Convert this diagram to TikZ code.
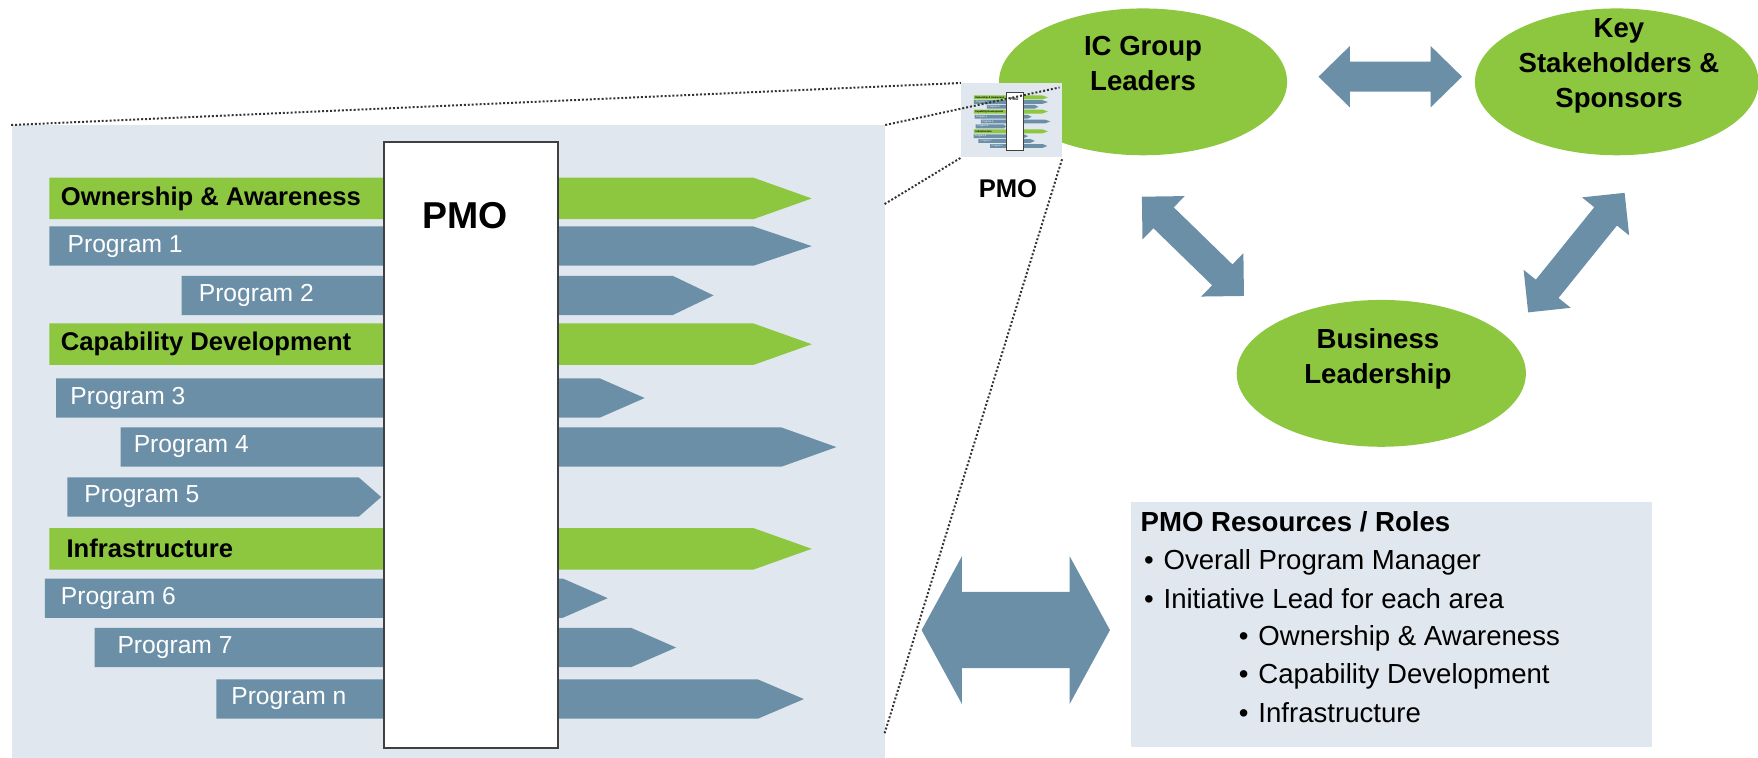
\documentclass[tikz,border=0pt]{standalone}
\usepackage{fontspec}
\setmainfont{Liberation Sans}
\usetikzlibrary{calc,shapes.geometric}
\definecolor{pmogreen} {RGB}{141,198,63}
\definecolor{pmoblue}  {RGB}{108,143,168}
\definecolor{panelgray}{RGB}{224,231,238}
\definecolor{boxgray}  {RGB}{64,64,64}
\tikzset{
  panelbox/.style={fill=panelgray, inner sep=0pt, anchor=north west},
  pmobox/.style  ={draw=boxgray, fill=white, inner sep=0pt, anchor=north west,
                   minimum width=3.1cm, minimum height=10.81cm},
  pmotxt/.style  ={inner sep=0pt, font=\fontsize{19}{22}\selectfont\bfseries},
  greenlbl/.style={anchor=west, inner sep=0pt, text=black,
                   font=\fontsize{13}{15}\selectfont\bfseries},
  bluelbl/.style ={anchor=west, inner sep=0pt, text=white,
                   font=\fontsize{12.5}{15}\selectfont},
  group/.style   ={ellipse, fill=pmogreen, inner sep=0pt, minimum height=2.62cm},
  grouptxt/.style={align=center, inner sep=0pt,
                   font=\fontsize{14}{17.7}\selectfont\bfseries},
  roletxt/.style ={anchor=base west, inner sep=0pt, font=\fontsize{14}{17}\selectfont},
  zoomline/.style={draw=black!80, line width=1pt, dash pattern=on 1pt off 1pt},
}
%% the PMO board (bars + PMO column), #1 = name prefix, #2 = border width
\newcommand{\pmoboard}[2]{%
  \foreach \nm/\xa/\xb/\xc/\yc/\xt/\txt in {
      own/44/672/724/177/54/Ownership \& Awareness,
      cap/44/672/724/307/54/Capability Development,
      inf/44/672/724/489.5/59/Infrastructure}{
    \fill[pmogreen] (\xa,\yc-18.5) -- (\xb,\yc-18.5) -- (\xc,\yc)
      -- (\xb,\yc+18.5) -- (\xa,\yc+18.5) -- cycle;
    \node[greenlbl] (#1\nm) at (\xt,\yc) {\txt};
  }
  \foreach \nm/\xa/\xb/\xc/\yc/\xt/\txt in {
      p1/44/672/724/219.5/60/Program 1,
      p2/162/600/636.5/263.5/177/Program 2,
      p3/50/535/575/355/62.5/Program 3,
      p4/107.5/697/746/398.75/119/Program 4,
      p5/60/320/340/443.3/75/Program 5,
      p6/40/502/542/533.5/54/Program 6,
      p7/84.5/563/603/577.5/104.5/Program 7,
      pn/193/676/717/623.5/206/Program n}{
    \fill[pmoblue] (\xa,\yc-17.5) -- (\xb,\yc-17.5) -- (\xc,\yc)
      -- (\xb,\yc+17.5) -- (\xa,\yc+17.5) -- cycle;
    \node[bluelbl] (#1\nm) at (\xt,\yc) {\txt};
  }
  \node[pmobox, line width=#2] (#1box) at (342,125.5) {};
  \node[pmotxt] (#1pmo) at (415,192) {PMO};
}
%% block double arrow: centre, angle, half length, head length, shaft half, head half
\newcommand{\dblarrow}[6]{%
  \fill[pmoblue, shift={#1}, rotate=#2]
    (-#3,0) -- (-#3+#4,#6) -- (-#3+#4,#5) -- (#3-#4,#5) -- (#3-#4,#6) -- (#3,0)
    -- (#3-#4,-#6) -- (#3-#4,-#5) -- (-#3+#4,-#5) -- (-#3+#4,-#6) -- cycle;}
\newcommand{\rb}{\makebox[0.35cm][l]{\textbullet}}

\begin{document}
\begin{tikzpicture}[x=0.02cm,y=-0.02cm]
  \useasboundingbox (0,0) rectangle (1568,676);
  % left board
  \node[panelbox, minimum width=15.58cm, minimum height=11.29cm] (panel) at (10,111.5) {};
  \pmoboard{m}{1pt}

  % groups
  \node[group, minimum width=5.14cm] (icg) at (1019.5,73) {};
  \node[group, minimum width=5.06cm] (key) at (1442,73) {};
  \node[group, minimum width=5.16cm] (biz) at (1232,333) {};
  \node[grouptxt] (icgtxt) at (1019.5,57) {IC Group\\Leaders};
  \node[grouptxt] (keytxt) at (1444,59) {Key\\Stakeholders \&\\Sponsors};
  \node[grouptxt] (biztxt) at (1229,320) {Business\\Leadership};
  \dblarrow{(1240,68.4)}{0}{64}{28}{13.4}{27.4}
  \dblarrow{(1064,219.7)}{-44.2}{63.5}{27}{13}{27}
  \dblarrow{(1406,225.3)}{51.1}{68.5}{27}{13}{27}

  % thumbnail of the board
  \node[panelbox, minimum width=1.8cm, minimum height=1.32cm] (thumb) at (857,74) {};
  \begin{scope}[shift={(864.45,69.7)}, scale=0.097, transform shape]
    \pmoboard{t}{0.3pt}
  \end{scope}
  \node[font=\fontsize{13}{15}\selectfont\bfseries, inner sep=0pt] (thumblbl) at (899,168) {PMO};
  \coordinate (pa) at (789,182);
  \coordinate (pb) at (789,654);
  \coordinate (tr) at (945,78);
  \draw[zoomline] (panel.north west) -- (thumb.north west);
  \draw[zoomline] (panel.north east) -- (tr);
  \draw[zoomline] (pa) -- (thumb.south west);
  \draw[zoomline] (pb) -- (thumb.south east);

  % resources
  \dblarrow{(906,562)}{0}{84}{36}{34}{66}
  \node[panelbox, minimum width=9.3cm, minimum height=4.38cm] (roles) at (1008,447) {};
  \node[roletxt, font=\fontsize{14}{17}\selectfont\bfseries] (r0) at (1017,474) {PMO Resources / Roles};
  \node[roletxt] (r1) at (1020,508) {\rb Overall Program Manager};
  \node[roletxt] (r2) at (1020,542.5) {\rb Initiative Lead for each area};
  \node[roletxt] (r3) at (1104.6,576) {\rb Ownership \& Awareness};
  \node[roletxt] (r4) at (1104.6,610) {\rb Capability Development};
  \node[roletxt] (r5) at (1104.6,644.6) {\rb Infrastructure};
\end{tikzpicture}
\end{document}
